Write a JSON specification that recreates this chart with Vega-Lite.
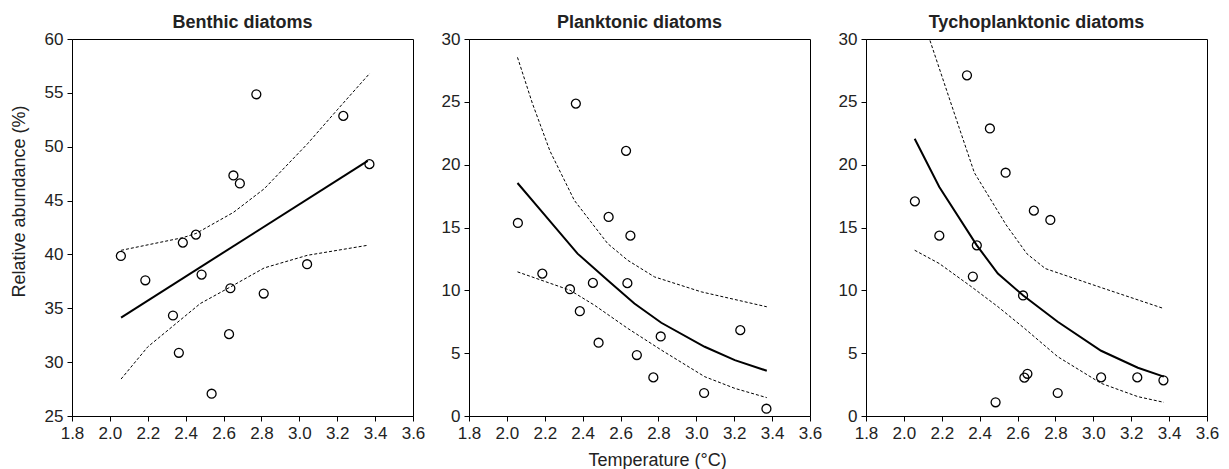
{
  "$schema": "https://vega.github.io/schema/vega-lite/v6.json",
  "padding": {"left": 9, "top": 13, "right": 5, "bottom": 0},
  "background": "white",
  "bounds": "flush",
  "spacing": 56,
  "config": {
    "font": "Liberation Sans",
    "view": {"stroke": "black", "strokeWidth": 1},
    "axis": {
      "grid": false,
      "domainColor": "black",
      "tickColor": "black",
      "tickSize": 5,
      "labelFontSize": 17,
      "labelColor": "#222222",
      "labelPadding": 4,
      "labelFlush": false,
      "labelOverlap": false,
      "titleFontSize": 18,
      "titleFontWeight": "normal",
      "titleColor": "#222222",
      "labelFont": "Liberation Sans",
      "titleFont": "Liberation Sans"
    },
    "title": {"fontSize": 18, "fontWeight": "bold", "color": "#222222", "offset": -2, "anchor": "middle", "font": "Liberation Sans"}
  },
  "datasets": {
    "points": [
      {"g": "Benthic", "t": 2.058, "v": 39.86},
      {"g": "Benthic", "t": 2.187, "v": 37.6},
      {"g": "Benthic", "t": 2.333, "v": 34.33},
      {"g": "Benthic", "t": 2.364, "v": 30.87},
      {"g": "Benthic", "t": 2.385, "v": 41.1},
      {"g": "Benthic", "t": 2.454, "v": 41.84},
      {"g": "Benthic", "t": 2.484, "v": 38.13},
      {"g": "Benthic", "t": 2.537, "v": 27.07},
      {"g": "Benthic", "t": 2.629, "v": 32.6},
      {"g": "Benthic", "t": 2.636, "v": 36.86},
      {"g": "Benthic", "t": 2.652, "v": 47.33},
      {"g": "Benthic", "t": 2.686, "v": 46.59},
      {"g": "Benthic", "t": 2.773, "v": 54.87},
      {"g": "Benthic", "t": 2.812, "v": 36.37},
      {"g": "Benthic", "t": 3.041, "v": 39.09},
      {"g": "Benthic", "t": 3.232, "v": 52.86},
      {"g": "Benthic", "t": 3.37, "v": 48.38},
      {"g": "Planktonic", "t": 2.058, "v": 15.36},
      {"g": "Planktonic", "t": 2.187, "v": 11.33},
      {"g": "Planktonic", "t": 2.333, "v": 10.09},
      {"g": "Planktonic", "t": 2.364, "v": 24.86},
      {"g": "Planktonic", "t": 2.385, "v": 8.34},
      {"g": "Planktonic", "t": 2.454, "v": 10.59},
      {"g": "Planktonic", "t": 2.484, "v": 5.83},
      {"g": "Planktonic", "t": 2.537, "v": 15.84},
      {"g": "Planktonic", "t": 2.629, "v": 21.1},
      {"g": "Planktonic", "t": 2.636, "v": 10.57},
      {"g": "Planktonic", "t": 2.652, "v": 14.35},
      {"g": "Planktonic", "t": 2.686, "v": 4.85},
      {"g": "Planktonic", "t": 2.773, "v": 3.07},
      {"g": "Planktonic", "t": 2.812, "v": 6.33},
      {"g": "Planktonic", "t": 3.041, "v": 1.83},
      {"g": "Planktonic", "t": 3.232, "v": 6.83},
      {"g": "Planktonic", "t": 3.37, "v": 0.58},
      {"g": "Tycho", "t": 2.058, "v": 17.08},
      {"g": "Tycho", "t": 2.187, "v": 14.35},
      {"g": "Tycho", "t": 2.333, "v": 27.11},
      {"g": "Tycho", "t": 2.364, "v": 11.1},
      {"g": "Tycho", "t": 2.385, "v": 13.58},
      {"g": "Tycho", "t": 2.454, "v": 22.88},
      {"g": "Tycho", "t": 2.484, "v": 1.09},
      {"g": "Tycho", "t": 2.537, "v": 19.36},
      {"g": "Tycho", "t": 2.629, "v": 9.59},
      {"g": "Tycho", "t": 2.636, "v": 3.05},
      {"g": "Tycho", "t": 2.652, "v": 3.36},
      {"g": "Tycho", "t": 2.686, "v": 16.34},
      {"g": "Tycho", "t": 2.773, "v": 15.6},
      {"g": "Tycho", "t": 2.812, "v": 1.83},
      {"g": "Tycho", "t": 3.041, "v": 3.07},
      {"g": "Tycho", "t": 3.232, "v": 3.07},
      {"g": "Tycho", "t": 3.37, "v": 2.84}
    ],
    "curves": [
      {"g": "Benthic", "k": "fit", "t": 2.059, "v": 34.14},
      {"g": "Benthic", "k": "fit", "t": 3.361, "v": 48.69},
      {"g": "Benthic", "k": "upper", "t": 2.059, "v": 40.38},
      {"g": "Benthic", "k": "upper", "t": 2.386, "v": 41.56},
      {"g": "Benthic", "k": "upper", "t": 2.455, "v": 41.95},
      {"g": "Benthic", "k": "upper", "t": 2.652, "v": 43.9},
      {"g": "Benthic", "k": "upper", "t": 2.815, "v": 46.1},
      {"g": "Benthic", "k": "upper", "t": 3.043, "v": 50.27},
      {"g": "Benthic", "k": "upper", "t": 3.2, "v": 53.42},
      {"g": "Benthic", "k": "upper", "t": 3.372, "v": 56.82},
      {"g": "Benthic", "k": "lower", "t": 2.059, "v": 28.43},
      {"g": "Benthic", "k": "lower", "t": 2.2, "v": 31.42},
      {"g": "Benthic", "k": "lower", "t": 2.477, "v": 35.44},
      {"g": "Benthic", "k": "lower", "t": 2.636, "v": 36.98},
      {"g": "Benthic", "k": "lower", "t": 2.815, "v": 38.75},
      {"g": "Benthic", "k": "lower", "t": 3.043, "v": 39.92},
      {"g": "Benthic", "k": "lower", "t": 3.361, "v": 40.85},
      {"g": "Planktonic", "k": "fit", "t": 2.056, "v": 18.54},
      {"g": "Planktonic", "k": "fit", "t": 2.179, "v": 16.36},
      {"g": "Planktonic", "k": "fit", "t": 2.373, "v": 12.92},
      {"g": "Planktonic", "k": "fit", "t": 2.532, "v": 10.8},
      {"g": "Planktonic", "k": "fit", "t": 2.673, "v": 8.95},
      {"g": "Planktonic", "k": "fit", "t": 2.815, "v": 7.42},
      {"g": "Planktonic", "k": "fit", "t": 3.044, "v": 5.51},
      {"g": "Planktonic", "k": "fit", "t": 3.203, "v": 4.45},
      {"g": "Planktonic", "k": "fit", "t": 3.372, "v": 3.6},
      {"g": "Planktonic", "k": "upper", "t": 2.056, "v": 28.54},
      {"g": "Planktonic", "k": "upper", "t": 2.135, "v": 24.86},
      {"g": "Planktonic", "k": "upper", "t": 2.227, "v": 21.1},
      {"g": "Planktonic", "k": "upper", "t": 2.356, "v": 17.16},
      {"g": "Planktonic", "k": "upper", "t": 2.532, "v": 13.72},
      {"g": "Planktonic", "k": "upper", "t": 2.638, "v": 12.39},
      {"g": "Planktonic", "k": "upper", "t": 2.779, "v": 11.07},
      {"g": "Planktonic", "k": "upper", "t": 3.026, "v": 9.88},
      {"g": "Planktonic", "k": "upper", "t": 3.372, "v": 8.69},
      {"g": "Planktonic", "k": "lower", "t": 2.056, "v": 11.47},
      {"g": "Planktonic", "k": "lower", "t": 2.333, "v": 10.01},
      {"g": "Planktonic", "k": "lower", "t": 2.462, "v": 8.82},
      {"g": "Planktonic", "k": "lower", "t": 2.638, "v": 6.97},
      {"g": "Planktonic", "k": "lower", "t": 2.815, "v": 5.25},
      {"g": "Planktonic", "k": "lower", "t": 3.044, "v": 3.13},
      {"g": "Planktonic", "k": "lower", "t": 3.203, "v": 2.2},
      {"g": "Planktonic", "k": "lower", "t": 3.372, "v": 1.46},
      {"g": "Tycho", "k": "fit", "t": 2.057, "v": 22.06},
      {"g": "Tycho", "k": "fit", "t": 2.187, "v": 18.22},
      {"g": "Tycho", "k": "fit", "t": 2.385, "v": 13.58},
      {"g": "Tycho", "k": "fit", "t": 2.496, "v": 11.33},
      {"g": "Tycho", "k": "fit", "t": 2.63, "v": 9.59},
      {"g": "Tycho", "k": "fit", "t": 2.812, "v": 7.5},
      {"g": "Tycho", "k": "fit", "t": 3.041, "v": 5.19},
      {"g": "Tycho", "k": "fit", "t": 3.235, "v": 3.84},
      {"g": "Tycho", "k": "fit", "t": 3.372, "v": 3.13},
      {"g": "Tycho", "k": "upper", "t": 2.057, "v": 34.5},
      {"g": "Tycho", "k": "upper", "t": 2.135, "v": 30.0},
      {"g": "Tycho", "k": "upper", "t": 2.293, "v": 22.88},
      {"g": "Tycho", "k": "upper", "t": 2.372, "v": 19.36},
      {"g": "Tycho", "k": "upper", "t": 2.54, "v": 15.2},
      {"g": "Tycho", "k": "upper", "t": 2.65, "v": 12.9},
      {"g": "Tycho", "k": "upper", "t": 2.747, "v": 11.73},
      {"g": "Tycho", "k": "upper", "t": 3.041, "v": 10.22},
      {"g": "Tycho", "k": "upper", "t": 3.372, "v": 8.55},
      {"g": "Tycho", "k": "lower", "t": 2.057, "v": 13.19},
      {"g": "Tycho", "k": "lower", "t": 2.187, "v": 12.13},
      {"g": "Tycho", "k": "lower", "t": 2.357, "v": 10.28},
      {"g": "Tycho", "k": "lower", "t": 2.496, "v": 8.7},
      {"g": "Tycho", "k": "lower", "t": 2.637, "v": 6.97},
      {"g": "Tycho", "k": "lower", "t": 2.812, "v": 4.72},
      {"g": "Tycho", "k": "lower", "t": 3.041, "v": 2.6},
      {"g": "Tycho", "k": "lower", "t": 3.235, "v": 1.54},
      {"g": "Tycho", "k": "lower", "t": 3.372, "v": 1.09}
    ]
  },
  "hconcat": [
    {
      "width": 341,
      "height": 377,
      "title": "Benthic diatoms",
      "encoding": {
        "x": {"field": "t", "type": "quantitative", "scale": {"domain": [1.8, 3.6], "nice": false, "zero": false},
              "axis": {"values": [1.8, 2.0, 2.2, 2.4, 2.6, 2.8, 3.0, 3.2, 3.4, 3.6], "format": ".1f", "title": null}},
        "y": {"field": "v", "type": "quantitative", "scale": {"domain": [25, 60], "nice": false, "zero": false},
              "axis": {"values": [25, 30, 35, 40, 45, 50, 55, 60], "title": "Relative abundance (%)", "titleX": -48, "titleY": 162, "titleBaseline": "alphabetic", "titleAngle": -90, "titleAlign": "center"}}
      },
      "layer": [
        {"data": {"name": "curves"}, "transform": [{"filter": "datum.g === 'Benthic' && datum.k !== 'fit'"}],
         "mark": {"type": "line", "color": "black", "strokeWidth": 1, "strokeDash": [3, 2]},
         "encoding": {"detail": {"field": "k"}}},
        {"data": {"name": "curves"}, "transform": [{"filter": "datum.g === 'Benthic' && datum.k === 'fit'"}],
         "mark": {"type": "line", "color": "black", "strokeWidth": 2}},
        {"data": {"name": "points"}, "transform": [{"filter": "datum.g === 'Benthic'"}],
         "mark": {"type": "point", "shape": "circle", "filled": false, "color": "black", "size": 80, "strokeWidth": 1.3, "opacity": 1}}
      ]
    },
    {
      "width": 341,
      "height": 377,
      "title": "Planktonic diatoms",
      "encoding": {
        "x": {"field": "t", "type": "quantitative", "scale": {"domain": [1.8, 3.6], "nice": false, "zero": false},
              "axis": {"values": [1.8, 2.0, 2.2, 2.4, 2.6, 2.8, 3.0, 3.2, 3.4, 3.6], "format": ".1f", "title": "Temperature (°C)", "titleX": 188, "titleY": 49, "titleBaseline": "alphabetic", "titleAlign": "center"}},
        "y": {"field": "v", "type": "quantitative", "scale": {"domain": [0, 30], "nice": false},
              "axis": {"values": [0, 5, 10, 15, 20, 25, 30], "title": null}}
      },
      "layer": [
        {"data": {"name": "curves"}, "transform": [{"filter": "datum.g === 'Planktonic' && datum.k !== 'fit'"}],
         "mark": {"type": "line", "color": "black", "strokeWidth": 1, "strokeDash": [3, 2]},
         "encoding": {"detail": {"field": "k"}}},
        {"data": {"name": "curves"}, "transform": [{"filter": "datum.g === 'Planktonic' && datum.k === 'fit'"}],
         "mark": {"type": "line", "color": "black", "strokeWidth": 2}},
        {"data": {"name": "points"}, "transform": [{"filter": "datum.g === 'Planktonic'"}],
         "mark": {"type": "point", "shape": "circle", "filled": false, "color": "black", "size": 80, "strokeWidth": 1.3, "opacity": 1}}
      ]
    },
    {
      "width": 341,
      "height": 377,
      "title": "Tychoplanktonic diatoms",
      "encoding": {
        "x": {"field": "t", "type": "quantitative", "scale": {"domain": [1.8, 3.6], "nice": false, "zero": false},
              "axis": {"values": [1.8, 2.0, 2.2, 2.4, 2.6, 2.8, 3.0, 3.2, 3.4, 3.6], "format": ".1f", "title": null}},
        "y": {"field": "v", "type": "quantitative", "scale": {"domain": [0, 30], "nice": false},
              "axis": {"values": [0, 5, 10, 15, 20, 25, 30], "title": null}}
      },
      "layer": [
        {"data": {"name": "curves"}, "transform": [{"filter": "datum.g === 'Tycho' && datum.k !== 'fit'"}],
         "mark": {"type": "line", "color": "black", "strokeWidth": 1, "strokeDash": [3, 2], "clip": true},
         "encoding": {"detail": {"field": "k"}}},
        {"data": {"name": "curves"}, "transform": [{"filter": "datum.g === 'Tycho' && datum.k === 'fit'"}],
         "mark": {"type": "line", "color": "black", "strokeWidth": 2}},
        {"data": {"name": "points"}, "transform": [{"filter": "datum.g === 'Tycho'"}],
         "mark": {"type": "point", "shape": "circle", "filled": false, "color": "black", "size": 80, "strokeWidth": 1.3, "opacity": 1}}
      ]
    }
  ]
}
